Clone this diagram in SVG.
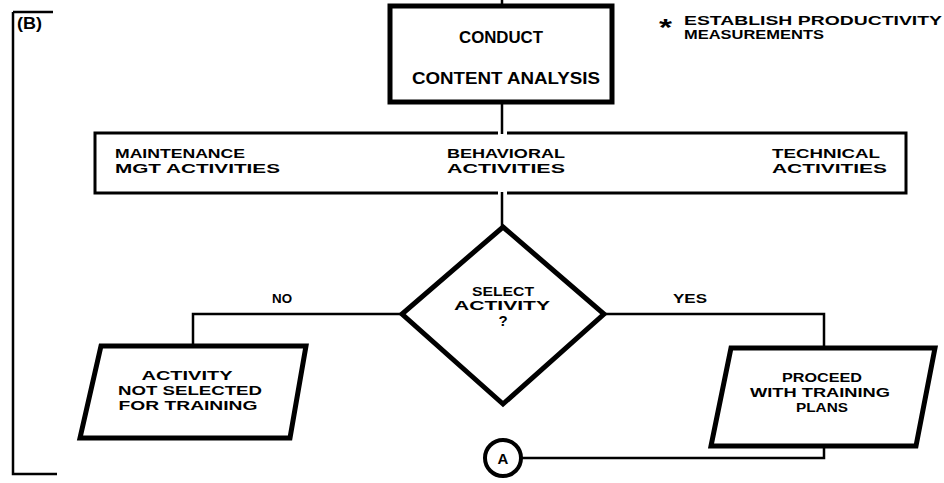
<svg xmlns="http://www.w3.org/2000/svg" width="944" height="483" viewBox="0 0 944 483">
<style>
text{font-family:"Liberation Sans","DejaVu Sans",sans-serif;font-weight:bold;font-size:13px;fill:#000}
.c{text-anchor:middle}
.big{font-size:16px}
.ast{font-size:24px}
.q{font-size:15px}
.thick{fill:#fff;stroke:#000;stroke-width:5;stroke-linejoin:miter}
.ln{fill:none;stroke:#000;stroke-width:2.5}
</style>
<rect width="944" height="483" fill="#fff"/>
<g id="connectors">
<path class="ln" d="M13 12 H53 M13 12 V474 H57" stroke-width="3"/>
<path class="ln" d="M502 0 V6 M502 103 V134 M502 192 V228"/>
<path class="ln" d="M402 314 H193 V346"/>
<path class="ln" d="M604 314 H824 V348"/>
<path class="ln" d="M521 458 H824 V446"/>
</g>
<g id="bracket-label"><text class="big" x="17" y="29" textLength="25" lengthAdjust="spacingAndGlyphs">(B)</text></g>
<g id="conduct">
<rect class="thick" x="390" y="6" width="222" height="96"/>
<text class="c big" x="501" y="43" textLength="84" lengthAdjust="spacingAndGlyphs">CONDUCT</text>
<text class="c big" x="506" y="84" textLength="188" lengthAdjust="spacingAndGlyphs">CONTENT ANALYSIS</text>
</g>
<g id="note">
<text class="ast" x="659" y="36" textLength="13" lengthAdjust="spacingAndGlyphs">*</text>
<text x="684" y="25" textLength="258" lengthAdjust="spacingAndGlyphs">ESTABLISH PRODUCTIVITY</text>
<text x="684" y="39" textLength="140" lengthAdjust="spacingAndGlyphs">MEASUREMENTS</text>
</g>
<g id="activities">
<path d="M498 133 H95 V193 H498 M507 133 H906 V193 H507" fill="none" stroke="#000" stroke-width="3"/>
<text x="115" y="158" textLength="130" lengthAdjust="spacingAndGlyphs">MAINTENANCE</text>
<text x="115" y="173" textLength="165" lengthAdjust="spacingAndGlyphs">MGT ACTIVITIES</text>
<text x="447" y="158" textLength="118" lengthAdjust="spacingAndGlyphs">BEHAVIORAL</text>
<text x="447" y="173" textLength="118" lengthAdjust="spacingAndGlyphs">ACTIVITIES</text>
<text x="772" y="158" textLength="108" lengthAdjust="spacingAndGlyphs">TECHNICAL</text>
<text x="772" y="173" textLength="115" lengthAdjust="spacingAndGlyphs">ACTIVITIES</text>
</g>
<g id="decision">
<polygon class="thick" stroke-width="6" points="503,227 604,314 503,404 402,314"/>
<text class="c" x="503" y="296" textLength="62" lengthAdjust="spacingAndGlyphs">SELECT</text>
<text class="c" x="502" y="310" textLength="96" lengthAdjust="spacingAndGlyphs">ACTIVITY</text>
<text class="c q" x="503" y="326">?</text>
</g>
<g id="labels">
<text x="272" y="303" textLength="20" lengthAdjust="spacingAndGlyphs">NO</text>
<text x="673" y="303" textLength="34" lengthAdjust="spacingAndGlyphs">YES</text>
</g>
<g id="not-selected">
<polygon class="thick" stroke-width="6" points="101,346 306,346 290,438 80,438"/>
<text class="c" x="187" y="380" textLength="91" lengthAdjust="spacingAndGlyphs">ACTIVITY</text>
<text class="c" x="190" y="395" textLength="144" lengthAdjust="spacingAndGlyphs">NOT SELECTED</text>
<text class="c" x="188" y="410" textLength="139" lengthAdjust="spacingAndGlyphs">FOR TRAINING</text>
</g>
<g id="proceed">
<polygon class="thick" stroke-width="6" points="731,348 935,348 916,446 711,446"/>
<text class="c" x="822" y="382" textLength="80" lengthAdjust="spacingAndGlyphs">PROCEED</text>
<text class="c" x="820" y="397" textLength="140" lengthAdjust="spacingAndGlyphs">WITH TRAINING</text>
<text class="c" x="822" y="412" textLength="52" lengthAdjust="spacingAndGlyphs">PLANS</text>
</g>
<g id="connector-a">
<circle cx="503" cy="458" r="18" fill="#fff" stroke="#000" stroke-width="4"/>
<text class="c q" x="503" y="464">A</text>
</g>
</svg>
